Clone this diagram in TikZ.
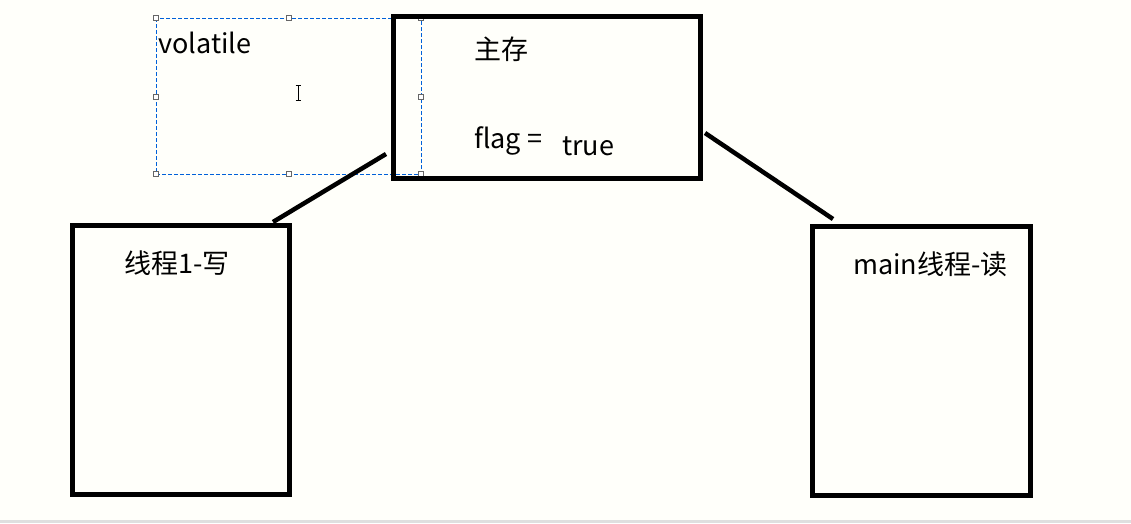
\documentclass[tikz,border=0pt]{standalone}
\usepackage{fontspec}
\setmainfont{Noto Sans CJK SC}
\begin{document}
\begin{tikzpicture}[x=1pt, y=-1pt,
	box/.style={draw, line width=5pt, inner sep=0pt},
	link/.style={line width=4.5pt},
	label/.style={font=\fontsize{27}{30}\selectfont, inner sep=0pt, anchor=base west},
	handle/.style={draw=gray!80!black, fill=white, line width=0.6pt, minimum size=5pt, inner sep=0pt}]
	
	% Background
	\fill[white!98!yellow] (0,0) rectangle (1131,523);
	\fill[gray!25] (0,520) rectangle (1131,523);
	\useasboundingbox (0,0) rectangle (1131,523);
	
	% Selection frame
	\draw[blue!55!cyan!85!black, dashed, dash pattern=on 4pt off 2pt, line width=0.8pt] (156,18) rectangle (421,174);
	\foreach \px/\py in {156/18,289/18,421/18,156/97,421/97,156/174,289/174,421/174}
		\node[handle] at (\px,\py) {};
	\node[label] (vol) at (158,53) {volatile};
	
	% Cursor
	\draw[line width=0.8pt] (298,85) -- (298,100) (295.5,85) -- (300.5,85) (295.5,100) -- (300.5,100);
	
	% Boxes
	\draw[box] (393,16) rectangle (700,178);
	\draw[box] (72,225) rectangle (289,494);
	\draw[box] (812,226) rectangle (1030,495);
	
	% Labels
	\node[label] (memlabel) at (474,59) {主存};
	\node[label] (flag) at (474,148) {flag =};
	\node[label] (val) at (562,155) {true};
	\node[label] (t1) at (124,273) {线程1-写};
	\node[label] (tmain) at (853,274) {main线程-读};
	
	% Links
	\coordinate (l1a) at (386,154);
	\coordinate (l1b) at (273,222);
	\coordinate (l2a) at (705,133);
	\coordinate (l2b) at (833,219);
	\draw[link] (l1a) -- (l1b);
	\draw[link] (l2a) -- (l2b);
	
\end{tikzpicture}
\end{document}
